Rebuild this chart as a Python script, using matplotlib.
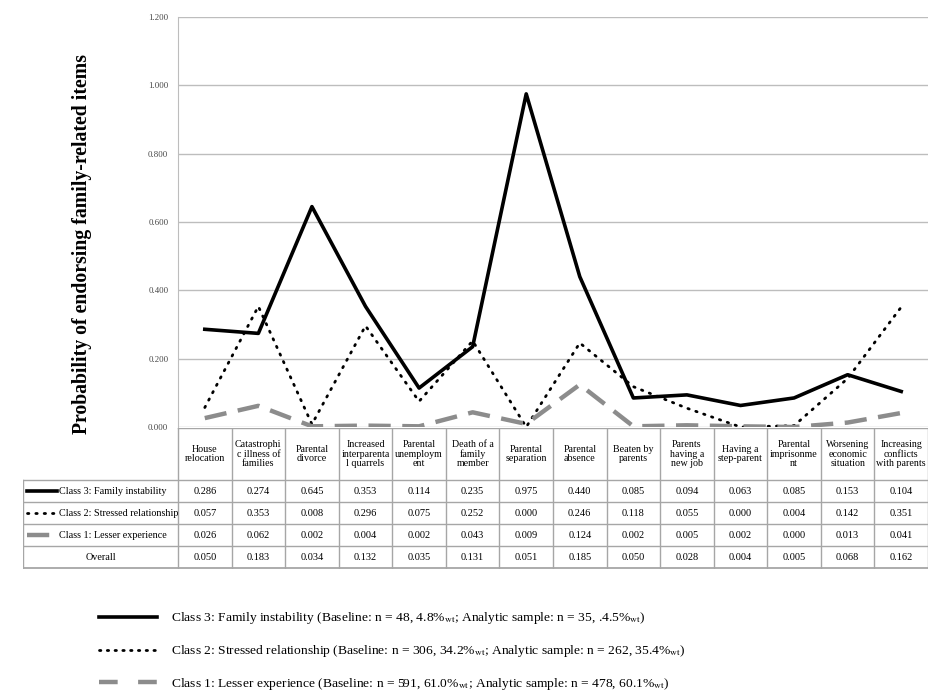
import matplotlib.pyplot as plt
from matplotlib.lines import Line2D

plt.rcParams['font.family'] = ['Liberation Serif', 'DejaVu Serif']
plt.rcParams['mathtext.fontset'] = 'stix'

# item names (line breaks as in the original table)
items = ['House\nrelocation', 'Catastrophi\nc illness of\nfamilies', 'Parental\ndivorce',
         'Increased\ninterparenta\nl quarrels', 'Parental\nunemploym\nent',
         'Death of a\nfamily\nmember', 'Parental\nseparation', 'Parental\nabsence',
         'Beaten by\nparents', 'Parents\nhaving a\nnew job', 'Having a\nstep-parent',
         'Parental\nimprisonme\nnt', 'Worsening\neconomic\nsituation',
         'Increasing\nconflicts\nwith parents']

class3 = [0.286, 0.274, 0.645, 0.353, 0.114, 0.235, 0.975, 0.440, 0.085, 0.094, 0.063, 0.085, 0.153, 0.104]
class2 = [0.057, 0.353, 0.008, 0.296, 0.075, 0.252, 0.000, 0.246, 0.118, 0.055, 0.000, 0.004, 0.142, 0.351]
class1 = [0.026, 0.062, 0.002, 0.004, 0.002, 0.043, 0.009, 0.124, 0.002, 0.005, 0.002, 0.000, 0.013, 0.041]
overall = [0.050, 0.183, 0.034, 0.132, 0.035, 0.131, 0.051, 0.185, 0.050, 0.028, 0.004, 0.005, 0.068, 0.162]

row_names = ['Class 3: Family instability', 'Class 2: Stressed relationship',
             'Class 1: Lesser experience', 'Overall']
legend_text = [
    'Class 3: Family instability (Baseline: n = 48, 4.8%$_{\\rm wt}$; Analytic sample: n = 35, .4.5%$_{\\rm wt}$)',
    'Class 2: Stressed relationship (Baseline: n = 306, 34.2%$_{\\rm wt}$; Analytic sample: n = 262, 35.4%$_{\\rm wt}$)',
    'Class 1: Lesser experience (Baseline: n = 591, 61.0%$_{\\rm wt}$; Analytic sample: n = 478, 60.1%$_{\\rm wt}$)',
]

styles = [dict(color='black', lw=2.6, ls='-'),
          dict(color='black', lw=2.0, ls=(0, (0.5, 2.5)), dash_capstyle='round'),
          dict(color='#8c8c8c', lw=3.2, ls=(0, (5, 2.6)))]

W, H = 943, 695
fig = plt.figure(figsize=(W / 100, H / 100), dpi=100)

# main chart
x0, x1 = 178, 928
ax = fig.add_axes([x0 / W, 1 - 427 / H, (x1 - x0) / W, 410 / H])
n = len(items)
xs = list(range(n))
for vals, st in zip([class3, class2, class1], styles):
    ax.plot(xs, vals, **st)
ax.set_xlim(-0.5, n - 0.5)
ax.set_ylim(0, 1.2)
yt = [0, 0.2, 0.4, 0.6, 0.8, 1.0, 1.2]
ax.set_yticks(yt)
ax.set_yticklabels(['%.3f' % v for v in yt], fontsize=6.3, color='#444444')
ax.tick_params(axis='y', length=0, pad=7)
ax.set_xticks([])
ax.grid(axis='y', color='#bdbdbd', lw=1)
ax.set_axisbelow(True)
for s in ['top', 'right', 'bottom']:
    ax.spines[s].set_visible(False)
ax.spines['left'].set_color('#bdbdbd')
ax.set_ylabel('Probability of endorsing family-related items', fontsize=14.2,
              fontweight='bold')
ax.yaxis.set_label_coords((92 - x0) / (x1 - x0), (427 - 244) / 410)

# table under the chart
t0, t1 = 23, 928
top, bot = 428, 569
tax = fig.add_axes([t0 / W, 1 - bot / H, (t1 - t0) / W, (bot - top) / H])
tax.set_xlim(t0, t1)
tax.set_ylim(bot, top)
tax.axis('off')
lab_w = x0 - t0
col_w = (x1 - x0) / n
hdr_bot = 480
row_h = 22
gc = '#a6a6a6'

# header cells
tax.plot([x0, x1], [top, top], color=gc, lw=1)
for i in range(n + 1):
    tax.plot([x0 + i * col_w] * 2, [top, bot - 1], color=gc, lw=1)
for i, name in enumerate(items):
    tax.text(x0 + (i + 0.5) * col_w, (top + hdr_bot) / 2, name, ha='center', va='center',
             fontsize=7.2, linespacing=1.05)
tax.plot([t0, x1], [hdr_bot, hdr_bot], color=gc, lw=1)
tax.plot([t0, t0], [hdr_bot, bot - 1], color=gc, lw=1)

table_rows = [class3, class2, class1, overall]
for r, (name, vals) in enumerate(zip(row_names, table_rows)):
    yc = hdr_bot + (r + 0.5) * row_h
    tax.plot([t0, x1], [hdr_bot + (r + 1) * row_h] * 2, color=gc, lw=1.3 if r == 3 else 1)
    if r < 3:
        tax.plot([t0 + 4, t0 + 34], [yc, yc], **styles[r])
        tax.text(t0 + 36, yc, name, ha='left', va='center', fontsize=7.3)
    else:
        tax.text(t0 + lab_w / 2, yc, name, ha='center', va='center', fontsize=7.3)
    for i, v in enumerate(vals):
        tax.text(x0 + (i + 0.5) * col_w, yc, '%.3f' % v, ha='center', va='center', fontsize=7.5)

# legend below (wider dash pattern for the grey key, as in the original)
leg_styles = [styles[0],
              dict(color='black', lw=2.0, ls=(0, (0.5, 2.3)), dash_capstyle='round'),
              dict(color='#8c8c8c', lw=3.2, ls=(0, (4.2, 4.6)))]
handles = [Line2D([], [], **st) for st in leg_styles]
fig.legend(handles, legend_text, loc='upper left', bbox_to_anchor=(94 / W, 1 - 605 / H),
           frameon=False, fontsize=9.7, handlelength=4.3, handletextpad=1.0,
           labelspacing=1.25, borderaxespad=0)

fig.savefig('out.png', dpi=100)
